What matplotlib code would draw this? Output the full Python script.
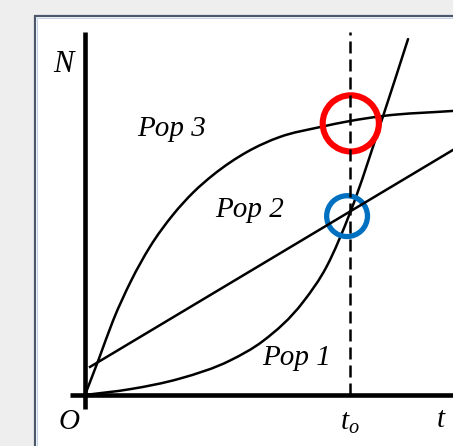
import matplotlib
matplotlib.use("Agg")
import matplotlib.pyplot as plt
from matplotlib.patches import Rectangle, Circle, PathPatch
from matplotlib.path import Path

plt.rcParams['font.family'] = ['Liberation Serif', 'DejaVu Serif']
plt.rcParams['mathtext.fontset'] = 'custom'
plt.rcParams['mathtext.it'] = 'Liberation Serif:italic'
plt.rcParams['mathtext.rm'] = 'Liberation Serif'

# population curves, time t vs size N (t_o = 10)
pop1_t = [0, 1.70, 3.58, 5.47, 6.72, 8.23, 9.13, 10.0, 11.25, 12.19]
pop1_n = [0, 0.22, 0.62, 1.30, 2.04, 3.51, 4.87, 6.87, 10.53, 13.43]

pop2_t = [0.19, 13.89]
pop2_n = [1.06, 9.25]

pop3_t = [0, 0.53, 1.06, 1.74, 2.45, 3.32, 4.08, 4.83, 6.11, 7.36, 8.87, 10.0, 11.25, 13.89]
pop3_n = [0, 1.38, 2.81, 4.31, 5.59, 6.80, 7.64, 8.30, 9.17, 9.74, 10.11, 10.34, 10.53, 10.72]

t_o = 10.0
labels = ['Pop 1', 'Pop 2', 'Pop 3']
label_pos = [(8.0, 1.40), (6.23, 6.98), (3.25, 10.04)]


def smooth_path(xs, ys):
    # cubic Hermite in t through the points, as Bezier segments
    n = len(xs)
    h = [xs[i + 1] - xs[i] for i in range(n - 1)]
    s = [(ys[i + 1] - ys[i]) / h[i] for i in range(n - 1)]
    d = [s[0]]
    for i in range(1, n - 1):
        d.append((h[i] * s[i - 1] + h[i - 1] * s[i]) / (h[i - 1] + h[i]))
    d.append(s[-1])
    verts = [(xs[0], ys[0])]
    codes = [Path.MOVETO]
    for i in range(n - 1):
        verts += [(xs[i] + h[i] / 3, ys[i] + d[i] * h[i] / 3),
                  (xs[i + 1] - h[i] / 3, ys[i + 1] - d[i + 1] * h[i] / 3),
                  (xs[i + 1], ys[i + 1])]
        codes += [Path.CURVE4] * 3
    return Path(verts, codes)


fig = plt.figure(figsize=(4.53, 4.46), dpi=100, facecolor='#eeeeee')

# white slide panel
fig.patches.append(Rectangle((35 / 453, -0.1), 1.0, (446 - 16) / 446 + 0.1,
                             transform=fig.transFigure, facecolor='white',
                             edgecolor='#4b586c', lw=1.6, zorder=-2))
fig.patches.append(Rectangle((37 / 453, -0.1), 1.0, (446 - 18) / 446 + 0.1,
                             transform=fig.transFigure, facecolor='none',
                             edgecolor='#b8cbe4', lw=0.6, zorder=-1))

ax = fig.add_axes([0, 0, 1, 1])
ax.set_zorder(1)
ax.set_xlim(-3.2075, 13.887)
ax.set_ylim(-1.9245, 14.906)
ax.axis('off')

# axes
ax.plot([0, 0], [-0.53, 13.7], color='black', lw=3.3, solid_capstyle='butt')
ax.plot([-0.57, 14.0], [0, 0], color='black', lw=3.3, solid_capstyle='butt')
ax.plot([t_o, t_o], [0, 13.7], color='black', lw=1.8,
        linestyle=(0, (4.8, 2.4)))

for xs, ys in [(pop1_t, pop1_n), (pop3_t, pop3_n)]:
    ax.add_patch(PathPatch(smooth_path(xs, ys), fill=False, edgecolor='black',
                           lw=1.8, capstyle='round'))
ax.plot(pop2_t, pop2_n, color='black', lw=1.8)

ax.add_patch(Circle((10.03, 10.25), 1.06, fill=False, edgecolor='#ff0000', lw=4.4))
ax.add_patch(Circle((9.89, 6.75), 0.77, fill=False, edgecolor='#0070c0', lw=3.8))

for lab, (x, y) in zip(labels, label_pos):
    ax.text(x, y, lab, fontsize=21, style='italic', ha='center', va='center')

ax.text(-0.83, 12.49, 'N', fontsize=22, style='italic', ha='center', va='center')
ax.text(-0.60, -1.02, 'O', fontsize=21, style='italic', ha='center', va='center')
ax.text(t_o, -1.06, r'$t_o$', fontsize=21, ha='center', va='center')
ax.text(13.43, -0.94, 't', fontsize=21, style='italic', ha='center', va='center')

fig.savefig('out.png', dpi=100, facecolor=fig.get_facecolor())
